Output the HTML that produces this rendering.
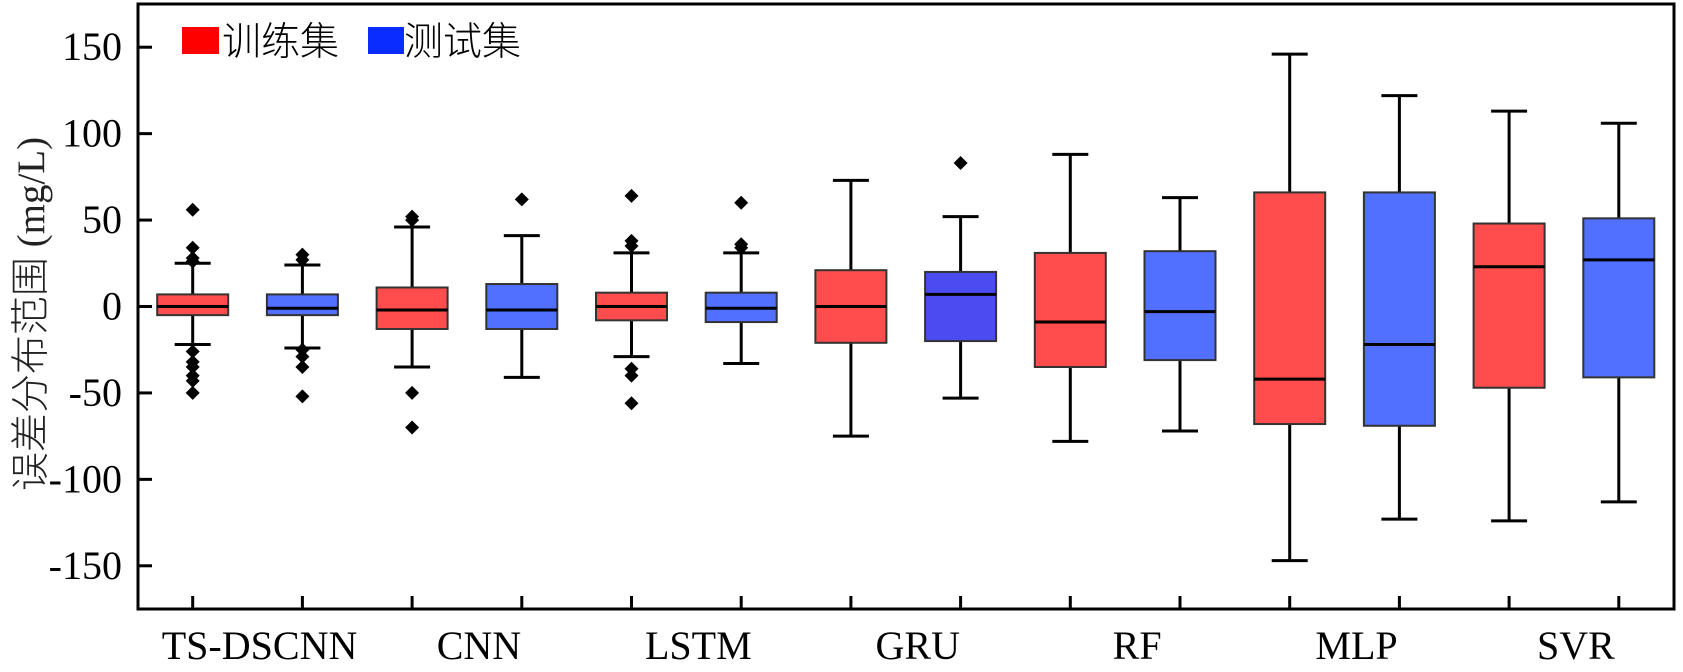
<!DOCTYPE html>
<html><head><meta charset="utf-8"><style>
html,body{margin:0;padding:0;background:#fff;}
svg{display:block;}
</style></head><body>
<svg id="chart" width="1683" height="672" xmlns="http://www.w3.org/2000/svg" font-family="'Liberation Serif','Noto Serif CJK SC',serif">
<g id="plot"></g>
</svg>
<script>
const categories = ["TS-DSCNN","CNN","LSTM","GRU","RF","MLP","SVR"];
const trainQ1 = [-5,-13,-8,-21,-35,-68,-47];
const trainMed = [0,-2,0,0,-9,-42,23];
const trainQ3 = [7,11,8,21,31,66,48];
const trainLo = [-22,-35,-29,-75,-78,-147,-124];
const trainHi = [25,46,31,73,88,146,113];
const trainOut = [[56,34,28,26,-26,-32,-35,-40,-43,-50],[52,50,-50,-70],[64,38,35,-36,-40,-56],[],[],[],[]];
const testQ1 = [-5,-13,-9,-20,-31,-69,-41];
const testMed = [-1,-2,-1,7,-3,-22,27];
const testQ3 = [7,13,8,20,32,66,51];
const testLo = [-24,-41,-33,-53,-72,-123,-113];
const testHi = [24,41,31,52,63,122,106];
const testOut = [[30,27,-25,-29,-35,-52],[62],[60,36,34],[83],[],[],[]];
const yTicks = [150,100,50,0,-50,-100,-150];

const NS="http://www.w3.org/2000/svg";
const plot=document.getElementById('plot');
const L=138,R=1674,T=4,B=609;
const yMin=-175,yMax=175;
function y(v){return B-(v-yMin)/(yMax-yMin)*(B-T);}
function x(i){return 192.7+i*109.7;}
function mk(tag,attrs,parent){const e=document.createElementNS(NS,tag);for(const k in attrs)e.setAttribute(k,attrs[k]);(parent||plot).appendChild(e);return e;}

function drawBox(i,q1,med,q3,lo,hi,outs,fill,name){
  const cx=x(i),w=71;
  const g=mk('g',{});
  
  
  mk('line',{x1:cx,x2:cx,y1:y(hi),y2:y(q3),stroke:'#000','stroke-width':3},g);
  mk('line',{x1:cx,x2:cx,y1:y(q1),y2:y(lo),stroke:'#000','stroke-width':3},g);
  mk('line',{x1:cx-18,x2:cx+18,y1:y(hi),y2:y(hi),stroke:'#000','stroke-width':3},g);
  mk('line',{x1:cx-18,x2:cx+18,y1:y(lo),y2:y(lo),stroke:'#000','stroke-width':3},g);
  mk('rect',{x:cx-w/2,y:y(q3),width:w,height:y(q1)-y(q3),fill:fill,stroke:'#333','stroke-width':2},g);
  mk('line',{x1:cx-w/2,x2:cx+w/2,y1:y(med),y2:y(med),stroke:'#000','stroke-width':3},g);
  outs.forEach(o=>{
    const cy=y(o);
    const p=mk('polygon',{points:`${cx},${cy-7} ${cx+7},${cy} ${cx},${cy+7} ${cx-7},${cy}`,fill:'#000'},g);
    
    
  });
}
categories.forEach((c,k)=>{
  drawBox(2*k,trainQ1[k],trainMed[k],trainQ3[k],trainLo[k],trainHi[k],trainOut[k],'#ff4d4d','train-box-'+c.toLowerCase());
  drawBox(2*k+1,testQ1[k],testMed[k],testQ3[k],testLo[k],testHi[k],testOut[k],k===3?'#4b4bf2':'#5170ff','test-box-'+c.toLowerCase());
  const t=mk('text',{x:(x(2*k)+x(2*k+1))/2+12,y:659,'text-anchor':'middle','font-size':40});
  t.textContent=c;
  
  
});
const fr=mk('rect',{x:L,y:T,width:R-L,height:B-T,fill:'none',stroke:'#000','stroke-width':3});


for(let i=0;i<14;i++){
  const tk=mk('line',{x1:x(i),x2:x(i),y1:B,y2:B-13,stroke:'#000','stroke-width':3});
  
  
}
yTicks.forEach(v=>{
  const tk=mk('line',{x1:L,x2:L+14,y1:y(v),y2:y(v),stroke:'#000','stroke-width':3});
  
  
  const t=mk('text',{x:L-16,y:y(v)+13,'text-anchor':'end','font-size':40});
  t.textContent=(v<0?'-'+Math.abs(v):v);
  
  
});
</script>
<svg style="position:absolute;left:0;top:0" width="1683" height="672" xmlns="http://www.w3.org/2000/svg" font-family="'Liberation Serif','Noto Serif CJK SC',serif">
<text transform="translate(44,314) rotate(-90)" text-anchor="middle" font-size="39" fill="#222"><tspan font-family="'Noto Sans CJK SC',sans-serif" font-weight="300">误差分布范围</tspan> (mg/L)</text>
<g>
<rect x="182" y="27" width="37" height="27" fill="#ff0000"/>
<text x="222" y="55" font-size="39" font-family="'Noto Sans CJK SC',sans-serif" font-weight="300">训练集</text>
<rect x="368" y="27" width="36" height="27" fill="#0a2cff"/>
<text x="404" y="55" font-size="39" font-family="'Noto Sans CJK SC',sans-serif" font-weight="300">测试集</text>
</g>
</svg>
</body></html>
